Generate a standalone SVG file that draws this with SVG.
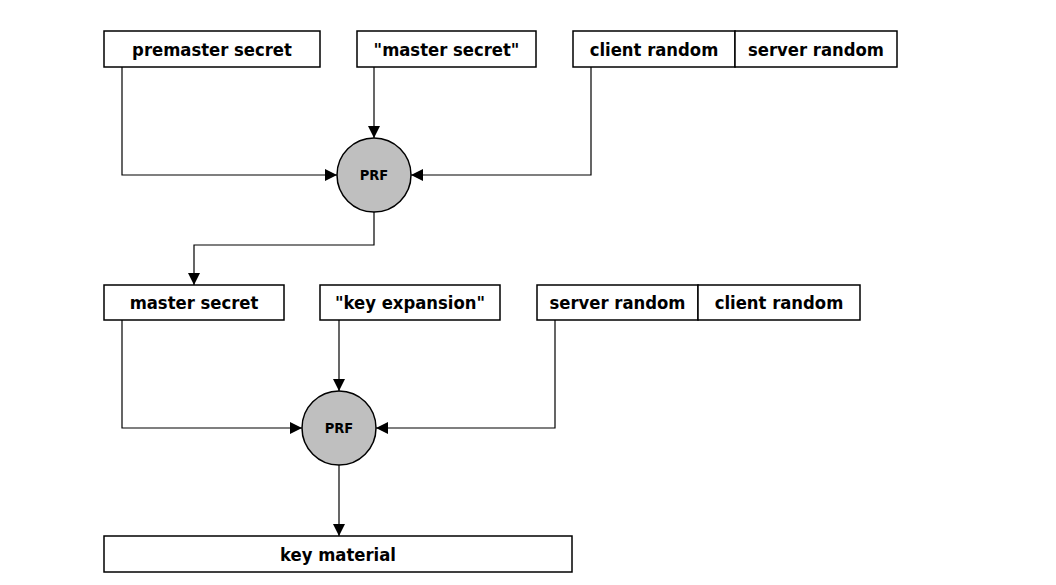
<svg xmlns="http://www.w3.org/2000/svg" width="1056" height="585" viewBox="0 0 1056 585">
<style>
.box{fill:#fff;stroke:#000;stroke-width:1.5}
.prf{fill:#bfbfbf;stroke:#000;stroke-width:1.5}
.t{font-family:"DejaVu Sans Condensed","DejaVu Sans",sans-serif;font-weight:bold;font-size:18.3px;text-anchor:middle;dominant-baseline:central;fill:#000}
.tp{font-family:"DejaVu Sans Condensed","DejaVu Sans",sans-serif;font-weight:bold;font-size:14.5px;text-anchor:middle;dominant-baseline:central;fill:#000}
.c{fill:none;stroke:#000;stroke-width:1.2;marker-end:url(#ah)}
</style>
<defs>
<marker id="ah" viewBox="0 0 10 10" refX="10" refY="5" markerWidth="12" markerHeight="12" markerUnits="userSpaceOnUse" orient="auto">
<path d="M0,0 L10,5 L0,10 z" fill="#000"/>
</marker>
</defs>
<rect width="1056" height="585" fill="#fff"/>
<g id="connectors">
<path class="c" d="M374,67 V138"/>
<path class="c" d="M122,67 V175 H337"/>
<path class="c" d="M591,67 V175 H411"/>
<path class="c" d="M374,212 V245 H194 V285"/>
<path class="c" d="M339,320 V391"/>
<path class="c" d="M122,320 V428 H302"/>
<path class="c" d="M555,320 V428 H376"/>
<path class="c" d="M339,465 V536"/>
</g>
<g id="premaster-secret"><rect class="box" x="104" y="31" width="216" height="36"/><text class="t" x="212" y="49">premaster secret</text></g>
<g id="master-secret-label"><rect class="box" x="357" y="31" width="179" height="36"/><text class="t" x="446.5" y="49">"master secret"</text></g>
<g id="client-random-1"><rect class="box" x="573" y="31" width="162" height="36"/><text class="t" x="654" y="49">client random</text></g>
<g id="server-random-1"><rect class="box" x="735" y="31" width="162" height="36"/><text class="t" x="816" y="49">server random</text></g>
<g id="prf-1"><circle class="prf" cx="374" cy="175" r="37"/><text class="tp" x="374" y="175">PRF</text></g>
<g id="master-secret"><rect class="box" x="104" y="285" width="180" height="35"/><text class="t" x="194" y="302.5">master secret</text></g>
<g id="key-expansion"><rect class="box" x="320" y="285" width="180" height="35"/><text class="t" x="410" y="302.5">"key expansion"</text></g>
<g id="server-random-2"><rect class="box" x="537" y="285" width="161" height="35"/><text class="t" x="617.5" y="302.5">server random</text></g>
<g id="client-random-2"><rect class="box" x="698" y="285" width="162" height="35"/><text class="t" x="779" y="302.5">client random</text></g>
<g id="prf-2"><circle class="prf" cx="339" cy="428" r="37"/><text class="tp" x="339" y="428">PRF</text></g>
<g id="key-material"><rect class="box" x="104" y="536" width="468" height="36"/><text class="t" x="338" y="554">key material</text></g>
</svg>
